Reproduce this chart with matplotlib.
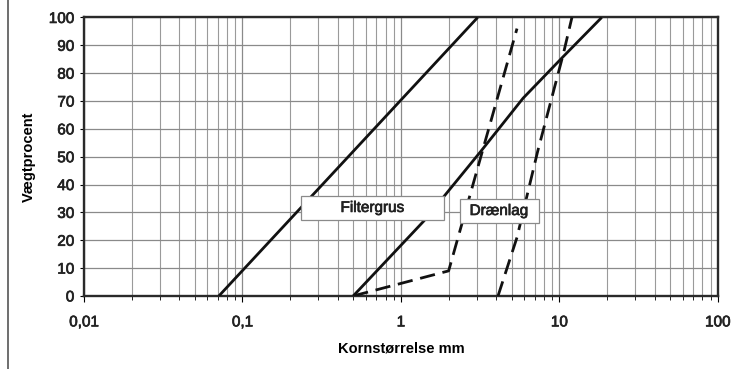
import numpy as np
import matplotlib
matplotlib.use("Agg")
import matplotlib.pyplot as plt
import matplotlib.patheffects as pe
from matplotlib.patches import Rectangle
from matplotlib.lines import Line2D
from matplotlib.ticker import FixedLocator, FixedFormatter, LogLocator, NullFormatter

plt.rcParams['font.family'] = ['Liberation Sans', 'DejaVu Sans']

# grain size curves: size in mm, weight percent passing
filter_lo_x = [0.071, 3.05]
filter_lo_y = [0, 100]
filter_hi_x = [0.5, 1.4, 3.2, 5.9, 10.6, 18.5]
filter_hi_y = [0, 27, 52, 71, 86, 100]

drain_lo_x = [0.5, 2.0, 5.4]
drain_lo_y = [0, 9, 96]
drain_hi_x = [4.1, 5.4, 7.3, 10.6, 12.0]
drain_hi_y = [0, 21, 52, 87, 100]

x_ticks = [0.01, 0.1, 1, 10, 100]
x_labels = ["0,01", "0,1", "1", "10", "100"]
y_ticks = list(range(0, 101, 10))

fig = plt.figure(figsize=(7.37, 3.69), dpi=100)
ax = fig.add_axes([0.114, 0.198, 0.860, 0.7547])

ax.set_xscale("log")
ax.set_xlim(0.01, 100)
ax.set_ylim(0, 100)

ax.xaxis.set_major_locator(FixedLocator(x_ticks))
ax.xaxis.set_major_formatter(FixedFormatter(x_labels))
ax.xaxis.set_minor_locator(LogLocator(base=10, subs=np.arange(2, 10)))
ax.xaxis.set_minor_formatter(NullFormatter())
ax.set_yticks(y_ticks)

ax.grid(which="major", axis="both", color="#8a8a8a", lw=0.9, zorder=1)
ax.grid(which="minor", axis="x", color="#9a9a9a", lw=0.8, zorder=1)
ax.set_axisbelow(True)

ax.tick_params(axis="x", which="major", length=4, width=0.8, pad=10, labelsize=11)
ax.tick_params(axis="x", which="minor", length=3, width=0.6)
ax.tick_params(axis="y", length=3, width=0.8, pad=4, labelsize=11)

# the scanned labels look a bit heavier than plain regular
thick = [pe.withStroke(linewidth=0.5, foreground="#222222")]
for lab in ax.get_xticklabels() + ax.get_yticklabels():
    lab.set_color("#222222")
    lab.set_path_effects(thick)

for s in ax.spines.values():
    s.set_linewidth(1.7)
    s.set_color("#2a2a2a")

# curves
solid = dict(color="#111111", lw=2.0, zorder=3, solid_capstyle="butt")
dashed = dict(color="#111111", lw=2.0, zorder=3, dashes=(5.5, 2.8))
ax.plot(filter_lo_x, filter_lo_y, **solid)
ax.plot(filter_hi_x, filter_hi_y, **solid)
ax.plot(drain_lo_x, drain_lo_y, **dashed)
ax.plot(drain_hi_x, drain_hi_y, **dashed)

# label boxes
ax.add_patch(Rectangle((0.234, 27.3), 1.87 - 0.234, 8.6,
                       fc="white", ec="#8a8a8a", lw=0.9, zorder=4))
ax.text(0.66, 31.6, "Filtergrus", ha="center", va="center", fontsize=11,
        color="#222222", path_effects=thick, zorder=5)
ax.add_patch(Rectangle((2.36, 26.3), 7.43 - 2.36, 8.5,
                       fc="white", ec="#8a8a8a", lw=0.9, zorder=4))
ax.text(4.15, 30.5, "Drænlag", ha="center", va="center", fontsize=11,
        color="#222222", path_effects=thick, zorder=5)

ax.set_xlabel("Kornstørrelse mm", fontsize=10.5, fontweight="bold", labelpad=9)
ax.set_ylabel("Vægtprocent", fontsize=10.5, fontweight="bold", labelpad=9)

# frame line at the left edge of the page
fig.add_artist(Line2D([0.011, 0.011], [0, 1], color="#555555", lw=1.2,
                      transform=fig.transFigure))

fig.savefig("out.png", dpi=100)
